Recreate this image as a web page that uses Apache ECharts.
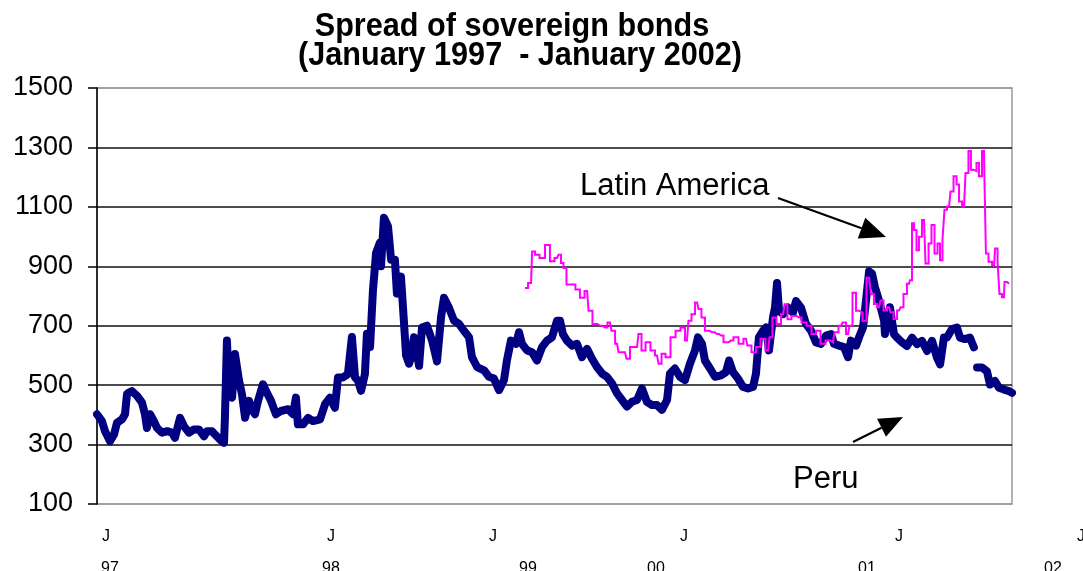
<!DOCTYPE html>
<html>
<head>
<meta charset="utf-8">
<title>Spread of sovereign bonds</title>
<script src="https://cdn.jsdelivr.net/npm/echarts@6/dist/echarts.min.js"></script>
<style>
  html, body { margin: 0; padding: 0; background: #fff; }
  #chart { width: 1083px; height: 571px; }
</style>
</head>
<body>
<div id="chart"></div>
<script>
// Sovereign bond spreads (basis points), dates as fractional years
const peruDates = [
  1997.000, 1997.027, 1997.044, 1997.071, 1997.093, 1997.109, 1997.137, 1997.153, 1997.164, 1997.175,
  1997.191, 1997.219, 1997.246, 1997.262, 1997.273, 1997.290, 1997.311, 1997.328, 1997.355, 1997.383,
  1997.410, 1997.426, 1997.454, 1997.475, 1997.503, 1997.530, 1997.557, 1997.585, 1997.601, 1997.628,
  1997.645, 1997.672, 1997.694, 1997.699, 1997.710, 1997.721, 1997.738, 1997.754, 1997.776, 1997.792,
  1997.809, 1997.831, 1997.841, 1997.863, 1997.880, 1997.907, 1997.923, 1997.951, 1997.978, 1998.005,
  1998.044, 1998.071, 1998.087, 1998.098, 1998.126, 1998.153, 1998.180, 1998.219, 1998.246, 1998.273,
  1998.300, 1998.317, 1998.344, 1998.371, 1998.393, 1998.410, 1998.426, 1998.443, 1998.464, 1998.475,
  1998.492, 1998.508, 1998.525, 1998.546, 1998.552, 1998.568, 1998.590, 1998.607, 1998.628, 1998.639,
  1998.661, 1998.672, 1998.689, 1998.705, 1998.716, 1998.732, 1998.760, 1998.776, 1998.803, 1998.831,
  1998.858, 1998.880, 1998.896, 1998.923, 1998.951, 1998.978, 1999.005, 1999.033, 1999.049, 1999.077,
  1999.115, 1999.142, 1999.169, 1999.197, 1999.224, 1999.240, 1999.262, 1999.290, 1999.306, 1999.322,
  1999.350, 1999.377, 1999.404, 1999.432, 1999.459, 1999.486, 1999.514, 1999.530, 1999.546, 1999.568,
  1999.596, 1999.623, 1999.650, 1999.678, 1999.705, 1999.732, 1999.760, 1999.787, 1999.814, 1999.842,
  1999.869, 1999.896, 1999.923, 1999.951, 1999.978, 2000.005, 2000.033, 2000.060, 2000.087, 2000.115,
  2000.131, 2000.158, 2000.186, 2000.213, 2000.240, 2000.268, 2000.284, 2000.306, 2000.322, 2000.350,
  2000.377, 2000.410, 2000.437, 2000.454, 2000.475, 2000.503, 2000.530, 2000.557, 2000.585, 2000.601,
  2000.617, 2000.639, 2000.656, 2000.672, 2000.694, 2000.705, 2000.716, 2000.727, 2000.749, 2000.776,
  2000.803, 2000.820, 2000.847, 2000.874, 2000.902, 2000.929, 2000.956, 2000.984, 2001.011, 2001.027,
  2001.055, 2001.082, 2001.104, 2001.120, 2001.148, 2001.164, 2001.186, 2001.202, 2001.219, 2001.235,
  2001.251, 2001.273, 2001.301, 2001.306, 2001.333, 2001.355, 2001.372, 2001.399, 2001.426, 2001.454,
  2001.481, 2001.508, 2001.536, 2001.563, 2001.590, 2001.607, 2001.628, 2001.645, 2001.672, 2001.699,
  2001.716, 2001.743, 2001.770, 2001.792, 2001.800, 2001.809, 2001.836, 2001.863, 2001.880, 2001.907,
  2001.929, 2001.956, 2001.984, 2002.000
];
const peruSpread = [
  402, 379, 345, 311, 334, 373, 385, 402, 470, 475,
  480, 464, 441, 402, 356, 402, 379, 356, 340, 345,
  340, 323, 390, 362, 340, 351, 351, 328, 345, 345,
  334, 317, 306, 390, 650, 492, 458, 605, 515, 470,
  390, 447, 424, 402, 447, 503, 481, 447, 402, 413,
  419, 402, 458, 368, 368, 390, 379, 385, 436, 458,
  424, 526, 526, 537, 662, 526, 515, 481, 537, 673,
  628, 820, 945, 980, 900, 1063, 1035, 922, 922, 808,
  865, 763, 600, 572, 594, 661, 565, 694, 700, 650,
  580, 728, 794, 761, 717, 706, 683, 661, 594, 561,
  550, 528, 522, 483, 517, 583, 650, 639, 678, 639,
  617, 611, 583, 628, 650, 661, 717, 717, 672, 650,
  633, 639, 594, 622, 589, 561, 539, 528, 506, 472,
  450, 428, 444, 450, 489, 444, 433, 433, 417, 450,
  539, 556, 528, 517, 572, 617, 661, 639, 583, 556,
  528, 533, 544, 583, 544, 522, 494, 489, 494, 539,
  661, 683, 694, 617, 728, 761, 844, 750, 739, 761,
  744, 783, 761, 706, 683, 644, 639, 667, 672, 639,
  633, 628, 594, 650, 633, 661, 694, 783, 883, 875,
  830, 785, 717, 672, 762, 672, 660, 644, 632, 660,
  638, 649, 615, 649, 593, 570, 660, 660, 689, 694,
  660, 655, 660, 627, null, 559, 559, 547, 502, 514,
  491, 485, 480, 474
];
const latamDates = [
  1999.339, 1999.372, 1999.383, 1999.404, 1999.432, 1999.464, 1999.486, 1999.514, 1999.530, 1999.541,
  1999.557, 1999.574, 1999.601, 1999.628, 1999.650, 1999.678, 1999.694, 1999.721, 1999.749, 1999.776,
  1999.803, 1999.820, 1999.842, 1999.858, 1999.885, 1999.902, 1999.923, 1999.951, 1999.967, 1999.984,
  2000.011, 2000.038, 2000.060, 2000.077, 2000.093, 2000.120, 2000.148, 2000.175, 2000.202, 2000.224,
  2000.240, 2000.257, 2000.279, 2000.295, 2000.311, 2000.333, 2000.361, 2000.388, 2000.410, 2000.437,
  2000.464, 2000.492, 2000.519, 2000.546, 2000.563, 2000.590, 2000.612, 2000.639, 2000.667, 2000.683,
  2000.699, 2000.727, 2000.749, 2000.765, 2000.781, 2000.809, 2000.836, 2000.863, 2000.891, 2000.918,
  2000.940, 2000.967, 2000.995, 2001.022, 2001.038, 2001.066, 2001.082, 2001.104, 2001.120, 2001.137,
  2001.158, 2001.175, 2001.191, 2001.219, 2001.240, 2001.251, 2001.273, 2001.290, 2001.306, 2001.328,
  2001.344, 2001.361, 2001.383, 2001.399, 2001.415, 2001.437, 2001.448, 2001.459, 2001.470, 2001.486,
  2001.497, 2001.519, 2001.536, 2001.552, 2001.568, 2001.585, 2001.601, 2001.612, 2001.628, 2001.634,
  2001.656, 2001.672, 2001.689, 2001.705, 2001.716, 2001.738, 2001.754, 2001.770, 2001.781, 2001.798,
  2001.814, 2001.825, 2001.847, 2001.852, 2001.863, 2001.880, 2001.902, 2001.913, 2001.929, 2001.934,
  2001.956, 2001.962, 2001.984
];
const latamSpread = [
  827, 844, 950, 939, 928, 972, 917, 928, 939, 911,
  894, 839, 839, 822, 794, 817, 750, 706, 700, 694,
  711, 683, 639, 611, 611, 589, 628, 628, 672, 617,
  644, 617, 600, 572, 606, 594, 661, 683, 694, 650,
  717, 739, 778, 756, 728, 683, 678, 672, 667, 644,
  650, 661, 639, 656, 633, 611, 628, 656, 617, 661,
  728, 706, 739, 772, 722, 733, 728, 711, 700, 672,
  683, 639, 650, 644, 678, 700, 711, 672, 700, 811,
  750, 744, 717, 861, 806, 773, 762, 785, 751, 762,
  745, 723, 751, 762, 807, 841, 853, 1045, 1022, 954,
  999, 1056, 909, 977, 1039, 943, 977, 920, 988, 1090,
  1101, 1152, 1203, 1175, 1118, 1101, 1214, 1288, 1225, 1220,
  1248, 1203, 1288, 1191, 943, 915, 903, 960, 915, 807,
  796, 847, 841
];

// Axis text
const titleLines = ['Spread of sovereign bonds', '(January 1997  - January 2002)'];
const monthTickLabels = ['J', 'J', 'J', 'J', 'J', 'J'];
const yearTickLabels = ['97', '98', '99', '00', '01', '02'];
const seriesNames = ['Peru', 'Latin America'];

// Layout of the free-standing text and arrows
const monthTickX = [106, 331, 493, 684, 899, 1081];
const yearTickX = [110, 331, 528, 656, 867, 1053];
const FONT = '"Liberation Sans", Arial, sans-serif';

function pairs(xs, ys) {
  return xs.map((x, i) => [x, ys[i]]);
}

function arrow(x1, y1, x2, y2, headLen, headWidth) {
  const dx = x2 - x1, dy = y2 - y1;
  const len = Math.sqrt(dx * dx + dy * dy);
  const ux = dx / len, uy = dy / len;
  const bx = x2 - ux * headLen, by = y2 - uy * headLen;
  const nx = -uy * headWidth / 2, ny = ux * headWidth / 2;
  return [
    { type: 'line', silent: true,
      shape: { x1: x1, y1: y1, x2: bx, y2: by },
      style: { stroke: '#000', lineWidth: 2.2 } },
    { type: 'polygon', silent: true,
      shape: { points: [[x2, y2], [bx + nx, by + ny], [bx - nx, by - ny]] },
      style: { fill: '#000' } }
  ];
}

function text(str, x, y, font, align, extra) {
  return Object.assign({
    type: 'text', x: x, y: y, silent: true,
    style: {
      text: str, font: font, fill: '#000',
      align: align, textAlign: align,
      verticalAlign: 'middle', textVerticalAlign: 'middle'
    }
  }, extra || {});
}

const graphics = [];
graphics.push(text(titleLines[0], 512, 27, 'bold 34px ' + FONT, 'center', { scaleX: 0.9 }));
graphics.push(text(titleLines[1], 520, 56, 'bold 34px ' + FONT, 'center', { scaleX: 0.9 }));
monthTickLabels.forEach((t, i) => graphics.push(text(t, monthTickX[i], 537, '16px ' + FONT, 'center')));
yearTickLabels.forEach((t, i) => graphics.push(text(t, yearTickX[i], 569, '16px ' + FONT, 'center')));
graphics.push(text(seriesNames[1], 580, 186, '31px ' + FONT, 'left'));
graphics.push(text(seriesNames[0], 793, 479, '31px ' + FONT, 'left'));
arrow(778, 198, 886, 237, 26, 22).forEach(g => graphics.push(g));
arrow(853, 442, 903, 417, 24, 20).forEach(g => graphics.push(g));

const chart = echarts.init(document.getElementById('chart'), null, { renderer: 'canvas' });
chart.setOption({
  animation: false,
  backgroundColor: '#fff',
  grid: {
    left: 97, right: 71, top: 88, bottom: 67,
    show: true, borderColor: '#9a9a9a', borderWidth: 1.5, backgroundColor: 'transparent'
  },
  xAxis: {
    type: 'value', min: 1997, max: 2002,
    axisLine: { show: false }, axisTick: { show: false },
    axisLabel: { show: false }, splitLine: { show: false }
  },
  yAxis: {
    type: 'value', min: 100, max: 1500, interval: 200,
    axisLine: { show: true, lineStyle: { color: '#000', width: 1.5 } },
    axisTick: { show: true, length: 9, lineStyle: { color: '#000', width: 1.5 } },
    axisLabel: {
      color: '#000', fontSize: 27, fontFamily: FONT, margin: 24,
      formatter: v => String(v)
    },
    splitLine: {
      show: true,
      lineStyle: { color: ['#9a9a9a', '#111', '#111', '#111', '#111', '#111', '#111', '#9a9a9a'], width: 1.5 }
    }
  },
  series: [
    {
      name: seriesNames[0], type: 'line', data: pairs(peruDates, peruSpread),
      showSymbol: false, connectNulls: false,
      lineStyle: { color: '#000080', width: 8, cap: 'round', join: 'round' },
      z: 3
    },
    {
      name: seriesNames[1], type: 'line', data: pairs(latamDates, latamSpread),
      showSymbol: false, step: 'middle',
      lineStyle: { color: '#ff00ff', width: 2, join: 'miter' },
      z: 4
    }
  ],
  graphic: graphics
});
</script>
</body>
</html>
